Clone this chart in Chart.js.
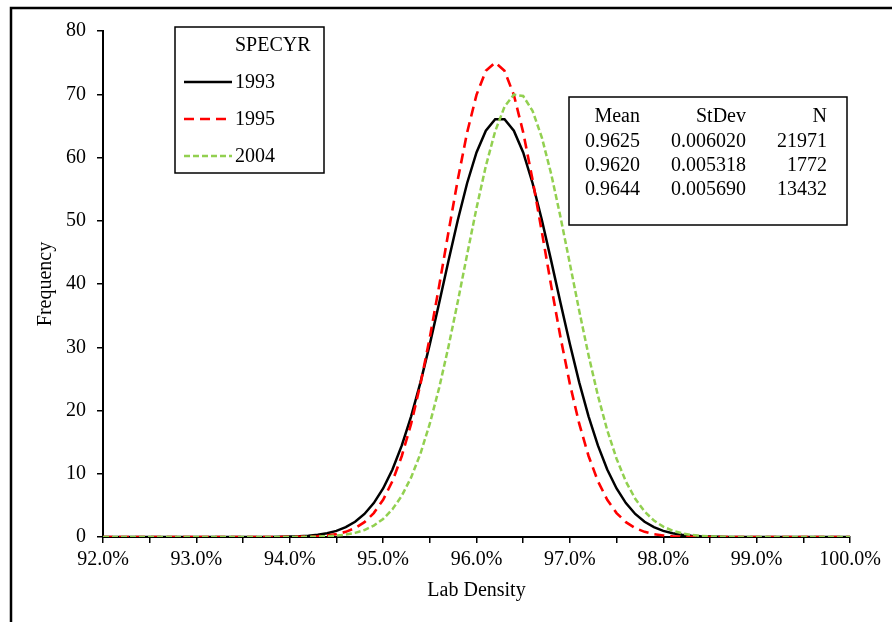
<!DOCTYPE html>
<html>
<head>
<meta charset="utf-8">
<script src="https://cdn.jsdelivr.net/npm/chart.js@4/dist/chart.umd.min.js"></script>
<style>
  html, body { margin: 0; padding: 0; background: #fff; }
  #wrap { position: relative; width: 892px; height: 622px; }
</style>
</head>
<body>
<div id="wrap"><canvas id="chart" width="892" height="622"></canvas></div>
<script>
/* ================================================================
   Lab Density — fitted normal curves by SPECYR
   ================================================================ */

// --- Data ---
const labDensity = [
  92.0, 92.1, 92.2, 92.3, 92.4, 92.5, 92.6, 92.7, 92.8, 92.9,
  93.0, 93.1, 93.2, 93.3, 93.4, 93.5, 93.6, 93.7, 93.8, 93.9,
  94.0, 94.1, 94.2, 94.3, 94.4, 94.5, 94.6, 94.7, 94.8, 94.9,
  95.0, 95.1, 95.2, 95.3, 95.4, 95.5, 95.6, 95.7, 95.8, 95.9,
  96.0, 96.1, 96.2, 96.3, 96.4, 96.5, 96.6, 96.7, 96.8, 96.9,
  97.0, 97.1, 97.2, 97.3, 97.4, 97.5, 97.6, 97.7, 97.8, 97.9,
  98.0, 98.1, 98.2, 98.3, 98.4, 98.5, 98.6, 98.7, 98.8, 98.9,
  99.0, 99.1, 99.2, 99.3, 99.4, 99.5, 99.6, 99.7, 99.8, 99.9,
  100.0
];

const freq1993 = [
  0, 0, 0, 0, 0, 0, 0, 0, 0, 0,
  0, 0, 0, 0, 0, 0.002, 0.004, 0.008, 0.017, 0.033,
  0.061, 0.113, 0.201, 0.349, 0.590, 0.969, 1.549, 2.408, 3.643, 5.363,
  7.675, 10.68, 14.48, 19.08, 24.45, 30.50, 36.99, 43.66, 50.12, 55.97,
  60.79, 64.24, 66.04, 66.04, 64.24, 60.79, 55.97, 50.12, 43.66, 36.99,
  30.50, 24.45, 19.08, 14.48, 10.68, 7.675, 5.363, 3.643, 2.408, 1.549,
  0.969, 0.590, 0.349, 0.201, 0.113, 0.061, 0.033, 0.017, 0.008, 0.004,
  0.002, 0, 0, 0, 0, 0, 0, 0, 0, 0,
  0
];

const freq1995 = [
  0, 0, 0, 0, 0, 0, 0, 0, 0, 0,
  0, 0, 0, 0, 0, 0, 0, 0.001, 0.003, 0.007,
  0.014, 0.031, 0.064, 0.127, 0.244, 0.453, 0.812, 1.404, 2.345, 3.779,
  5.880, 8.834, 12.81, 17.91, 24.20, 31.55, 39.70, 48.22, 56.53, 63.98,
  69.90, 73.70, 75.02, 73.70, 69.90, 63.98, 56.53, 48.22, 39.70, 31.55,
  24.20, 17.91, 12.81, 8.834, 5.880, 3.779, 2.345, 1.404, 0.812, 0.453,
  0.244, 0.127, 0.064, 0.031, 0.014, 0.007, 0.003, 0.001, 0, 0,
  0, 0, 0, 0, 0, 0, 0, 0, 0, 0,
  0
];

const freq2004 = [
  0, 0, 0, 0, 0, 0, 0, 0, 0, 0,
  0, 0, 0, 0, 0, 0, 0, 0, 0, 0.003,
  0.007, 0.015, 0.030, 0.059, 0.113, 0.210, 0.376, 0.654, 1.101, 1.800,
  2.851, 4.381, 6.525, 9.421, 13.19, 17.91, 23.58, 30.10, 37.24, 44.69,
  51.99, 58.65, 64.14, 68.02, 69.94, 69.72, 67.39, 63.16, 57.39, 50.57,
  43.20, 35.78, 28.73, 22.37, 16.89, 12.37, 8.775, 6.040, 4.030, 2.607,
  1.635, 0.994, 0.587, 0.335, 0.186, 0.100, 0.052, 0.026, 0.013, 0.006,
  0.003, 0, 0, 0, 0, 0, 0, 0, 0, 0,
  0
];

const seriesNames = ["1993", "1995", "2004"];
const legendTitle = "SPECYR";

const statHeaders = ["Mean", "StDev", "N"];
const statMeans   = ["0.9625", "0.9620", "0.9644"];
const statStDevs  = ["0.006020", "0.005318", "0.005690"];
const statCounts  = ["21971", "1772", "13432"];

// --- Look ---
const FONT = "'Liberation Serif', 'Times New Roman', serif";
const FONT_SIZE = 20;
const styles = [
  { color: "#000000", width: 2.5, dash: [] },
  { color: "#FF0000", width: 2.6, dash: [10, 6] },
  { color: "#92D050", width: 2.5, dash: [6, 3] },
];

// --- Overlay plugin: frame, axis titles, legend box, stats box ---
const overlay = {
  id: "overlay",
  beforeDraw(chart) {
    const c = chart.ctx;
    c.save();
    c.fillStyle = "#fff";
    c.fillRect(0, 0, chart.width, chart.height);
    c.strokeStyle = "#000";
    c.lineWidth = 2.5;
    c.beginPath();
    c.moveTo(11, 622);
    c.lineTo(11, 8);
    c.lineTo(892, 8);
    c.stroke();
    c.restore();
  },
  afterDraw(chart) {
    const c = chart.ctx;
    const area = chart.chartArea;
    c.save();
    c.fillStyle = "#000";
    c.font = `${FONT_SIZE}px ${FONT}`;
    c.textBaseline = "middle";

    // axis titles
    c.textAlign = "center";
    c.fillText("Lab Density", (area.left + area.right) / 2, 591);
    c.save();
    c.translate(46, (area.top + area.bottom) / 2);
    c.rotate(-Math.PI / 2);
    c.fillText("Frequency", 0, 0);
    c.restore();

    // legend box
    c.strokeStyle = "#000";
    c.lineWidth = 1.5;
    c.strokeRect(175, 27, 149, 146);
    c.textAlign = "left";
    c.fillText(legendTitle, 235, 46);
    seriesNames.forEach((name, i) => {
      const y = 82 + i * 37;
      const st = styles[i];
      c.save();
      c.strokeStyle = st.color;
      c.lineWidth = st.width;
      c.setLineDash(st.dash);
      c.beginPath();
      c.moveTo(184, y);
      c.lineTo(232, y);
      c.stroke();
      c.restore();
      c.fillText(name, 235, y + 1);
    });

    // stats box
    c.lineWidth = 1.5;
    c.strokeRect(569, 97, 278, 128);
    const colRight = [640, 746, 827];
    c.textAlign = "right";
    statHeaders.forEach((h, j) => c.fillText(h, colRight[j], 117));
    [statMeans, statStDevs, statCounts].forEach((col, j) => {
      col.forEach((v, i) => c.fillText(v, colRight[j], 142 + i * 24));
    });
    c.restore();
  },
};

const datasets = [freq1993, freq1995, freq2004].map((vals, i) => ({
  label: seriesNames[i],
  data: vals,
  borderColor: styles[i].color,
  borderWidth: styles[i].width,
  borderDash: styles[i].dash,
  pointRadius: 0,
  tension: 0,
  fill: false,
  order: 2 - i,
}));

const axisFont = { family: FONT, size: FONT_SIZE };

new Chart(document.getElementById("chart").getContext("2d"), {
  type: "line",
  data: { labels: labDensity, datasets },
  options: {
    responsive: false,
    animation: false,
    devicePixelRatio: 1,
    layout: { padding: { top: 31, right: 42, bottom: 0, left: 0 } },
    plugins: { legend: { display: false }, tooltip: { enabled: false } },
    scales: {
      x: {
        type: "linear",
        min: 92,
        max: 100,
        afterFit: (s) => { s.height = 85; },
        border: { display: true, color: "#000", width: 2 },
        grid: { drawOnChartArea: false, drawTicks: true, tickLength: 6, color: "#000", lineWidth: 1.5 },
        ticks: {
          stepSize: 0.5,
          autoSkip: false,
          maxRotation: 0,
          padding: 5,
          color: "#000",
          font: axisFont,
          callback: (v) => (Math.abs(v - Math.round(v)) < 1e-6 ? v.toFixed(1) + "%" : ""),
        },
      },
      y: {
        min: 0,
        max: 80,
        afterFit: (s) => { s.width = 103; },
        border: { display: true, color: "#000", width: 2 },
        grid: { drawOnChartArea: false, drawTicks: true, tickLength: 6, color: "#000", lineWidth: 1.5 },
        ticks: {
          stepSize: 10,
          padding: 11,
          color: "#000",
          font: axisFont,
        },
      },
    },
  },
  plugins: [overlay],
});
</script>
</body>
</html>
